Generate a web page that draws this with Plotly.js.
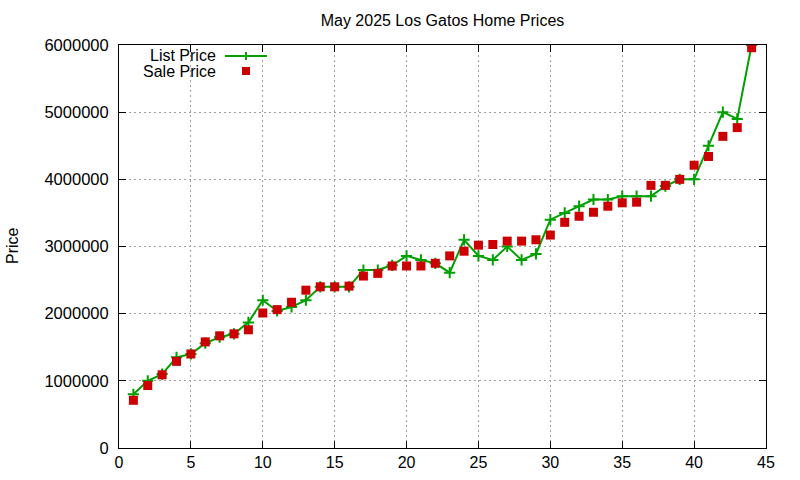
<!DOCTYPE html>
<html>
<head>
<meta charset="utf-8">
<script src="https://cdn.plot.ly/plotly-3.0.1.min.js"></script>
<style>html,body{margin:0;padding:0;background:#fff;}#chart{width:800px;height:480px;}</style>
</head>
<body>
<div id="chart"></div>
<script>
var homeIndex = [];
for (var i = 1; i <= 44; i++) homeIndex.push(i);
var listPrice = [800000, 1000000, 1100000, 1350000, 1400000, 1560000, 1650000, 1700000, 1870000, 2200000,
  2040000, 2100000, 2200000, 2400000, 2400000, 2400000, 2650000, 2650000, 2720000, 2860000,
  2800000, 2750000, 2610000, 3100000, 2860000, 2800000, 3000000, 2800000, 2890000, 3400000,
  3500000, 3600000, 3700000, 3700000, 3750000, 3750000, 3750000, 3900000, 4000000, 4000000,
  4500000, 5000000, 4900000, 6000000];
var salePrice = [710000, 930000, 1090000, 1290000, 1400000, 1580000, 1670000, 1700000, 1760000, 2010000,
  2060000, 2170000, 2350000, 2400000, 2400000, 2410000, 2560000, 2600000, 2710000, 2710000,
  2710000, 2750000, 2860000, 2930000, 3020000, 3030000, 3080000, 3080000, 3100000, 3170000,
  3360000, 3450000, 3510000, 3600000, 3650000, 3660000, 3910000, 3910000, 4000000, 4210000,
  4340000, 4640000, 4770000, 5960000];
var titleText = "May 2025 Los Gatos Home Prices";
var seriesNames = ["List Price", "Sale Price"];
var yTicks = [0, 1000000, 2000000, 3000000, 4000000, 5000000, 6000000];
var xTicks = [0, 5, 10, 15, 20, 25, 30, 35, 40, 45];

var green = "#00a000", red = "#cc0000";
var F = "Liberation Sans, Arial, sans-serif";
var L = 119, R = 766, T = 45, B = 448;
function px(x){ return (x - L) / (R - L); }
function py(y){ return (B - y) / (B - T); }

var traces = [
  {x: homeIndex, y: listPrice, name: seriesNames[0], type: "scatter", mode: "lines+markers",
   line: {color: green, width: 2},
   marker: {symbol: "cross-thin", size: 8, color: green, line: {color: green, width: 2}}},
  {x: homeIndex, y: salePrice, name: seriesNames[1], type: "scatter", mode: "markers",
   marker: {symbol: "square", size: 9, color: red, line: {width: 0}}}
];

var gridStyle = {showgrid: true, gridcolor: "#a0a0a0", griddash: "2px,3px", gridwidth: 1};
var layout = {
  width: 800, height: 480,
  margin: {l: L, r: 800 - R, t: T, b: 480 - B, pad: 0},
  paper_bgcolor: "#fff", plot_bgcolor: "#fff",
  showlegend: false,
  font: {family: F, size: 16, color: "#000"},
  title: {text: titleText, font: {family: F, size: 16, color: "#000"}, xref: "paper", x: 0.5, xanchor: "center",
    yref: "container", y: 1 - 20/480, yanchor: "middle"},
  xaxis: Object.assign({range: [0, 45], tickvals: xTicks, ticks: "inside", ticklen: 7, tickcolor: "#000",
    showline: true, linecolor: "#000", linewidth: 1, mirror: "ticks", zeroline: false,
    tickfont: {family: F, size: 16, color: "#000"}}, gridStyle),
  yaxis: Object.assign({range: [0, 6000000], tickvals: yTicks, tickformat: "d", ticks: "inside", ticklen: 7, tickcolor: "#000",
    showline: true, linecolor: "#000", linewidth: 1, mirror: "ticks", zeroline: false, ticklabelstandoff: 6,
    tickfont: {family: F, size: 16.5, color: "#000"}}, gridStyle),
  annotations: [
    {text: "Price", xref: "paper", yref: "paper", x: px(12), y: py(246), textangle: -90,
     showarrow: false, xanchor: "center", yanchor: "middle", font: {family: F, size: 16, color: "#000"}},
    {text: seriesNames[0], xref: "paper", yref: "paper", x: px(218), y: py(55),
     showarrow: false, xanchor: "right", yanchor: "middle", font: {family: F, size: 16, color: "#000"}},
    {text: seriesNames[1], xref: "paper", yref: "paper", x: px(218), y: py(71),
     showarrow: false, xanchor: "right", yanchor: "middle", font: {family: F, size: 16, color: "#000"}}
  ],
  shapes: [
    {type: "line", xref: "paper", yref: "paper", x0: px(225), x1: px(267), y0: py(56), y1: py(56), line: {color: green, width: 2}},
    {type: "line", xref: "paper", yref: "paper", x0: px(246), x1: px(246), y0: py(52), y1: py(60), line: {color: green, width: 2}},
    {type: "rect", xref: "paper", yref: "paper", x0: px(242), x1: px(250), y0: py(67), y1: py(75), line: {width: 0}, fillcolor: red}
  ]
};
Plotly.newPlot("chart", traces, layout, {staticPlot: true, displayModeBar: false});
</script>
</body>
</html>
